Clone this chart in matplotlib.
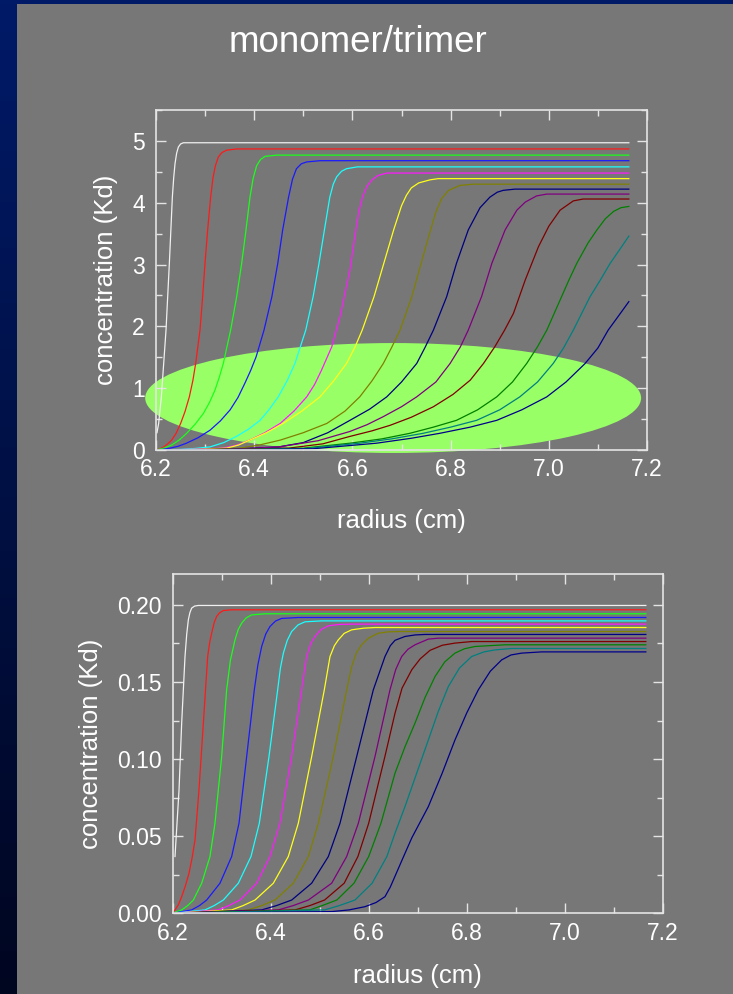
import numpy as np
import matplotlib
matplotlib.use("Agg")
import matplotlib.pyplot as plt
from matplotlib.patches import Ellipse, Rectangle
from matplotlib.ticker import MultipleLocator, FormatStrFormatter

plt.rcParams['font.family'] = ['Liberation Sans', 'DejaVu Sans']

SLIDE_GRAY = '#777777'
AXIS_WHITE = '#e4e4e4'

# one colour per scan, earliest scan first
curve_colors = ['#f0f0f0', '#ff1a1a', '#1aff1a', '#1a1aff', '#1affff', '#ff1aff',
                '#ffff1a', '#808000', '#000080', '#800080', '#800000', '#008000',
                '#008080', '#00008b']

# upper panel: radius (cm) and concentration (Kd) per scan
top_r = [
    [6.2020, 6.2054, 6.2109, 6.2204, 6.2272, 6.2333, 6.2360, 6.2387, 6.2420, 6.2455, 6.2500, 6.2557, 7.163],
    [6.2000, 6.2080, 6.2160, 6.2240, 6.2319, 6.2410, 6.2502, 6.2590, 6.2679, 6.2750, 6.2808, 6.2896, 6.2950,
     6.2998, 6.3052, 6.3113, 6.3160, 6.3210, 6.3270, 6.3340, 6.3439, 6.3643, 7.163],
    [6.2000, 6.2160, 6.2319, 6.2470, 6.2625, 6.2800, 6.2964, 6.3090, 6.3202, 6.3290, 6.3371, 6.3520, 6.3643,
     6.3745, 6.3833, 6.3914, 6.3980, 6.4050, 6.4130, 6.4220, 6.4458, 7.163],
    [6.2000, 6.2140, 6.2290, 6.2450, 6.2620, 6.2860, 6.3100, 6.3310, 6.3510, 6.3670, 6.3810, 6.3930, 6.4040,
     6.4200, 6.4360, 6.4480, 6.4580, 6.4700, 6.4780, 6.4860, 6.4960, 6.5070, 6.5340, 7.163],
    [6.2000, 6.2500, 6.2800, 6.3100, 6.3380, 6.3640, 6.3890, 6.4120, 6.4310, 6.4490, 6.4670, 6.4830, 6.5050,
     6.5200, 6.5320, 6.5430, 6.5540, 6.5610, 6.5680, 6.5780, 6.5880, 6.6100, 7.163],
    [6.2000, 6.2700, 6.3370, 6.3650, 6.3910, 6.4220, 6.4530, 6.4810, 6.5070, 6.5230, 6.5370, 6.5580, 6.5750,
     6.5950, 6.6050, 6.6130, 6.6210, 6.6300, 6.6400, 6.6520, 6.6700, 7.163],
    [6.2000, 6.2900, 6.3440, 6.3680, 6.3910, 6.4250, 6.4590, 6.4970, 6.5340, 6.5620, 6.5880, 6.6050, 6.6200,
     6.6440, 6.6640, 6.6840, 6.7000, 6.7100, 6.7200, 6.7350, 6.7580, 6.7750, 7.163],
    [6.2000, 6.3100, 6.3710, 6.4100, 6.4530, 6.5000, 6.5480, 6.5850, 6.6150, 6.6400, 6.6630, 6.6800, 6.6970,
     6.7210, 6.7400, 6.7570, 6.7700, 6.7820, 6.7960, 6.8190, 6.8460, 7.163],
    [6.2000, 6.3500, 6.4500, 6.5000, 6.5500, 6.5950, 6.6350, 6.6700, 6.7000, 6.7310, 6.7480, 6.7650, 6.7920,
     6.8120, 6.8360, 6.8600, 6.8800, 6.8950, 6.9070, 6.9310, 7.163],
    [6.2000, 6.3500, 6.4500, 6.5300, 6.5950, 6.6300, 6.6630, 6.7000, 6.7310, 6.7700, 6.7990, 6.8200, 6.8360,
     6.8630, 6.8840, 6.9110, 6.9350, 6.9520, 6.9750, 6.9960, 7.163],
    [6.2000, 6.3700, 6.4700, 6.5400, 6.5950, 6.6400, 6.6770, 6.7200, 6.7650, 6.8050, 6.8400, 6.8670, 6.8900,
     6.9100, 6.9280, 6.9520, 6.9790, 7.0000, 7.0230, 7.0500, 7.0700, 7.163],
    [6.2000, 6.4000, 6.5000, 6.5950, 6.6600, 6.7170, 6.7650, 6.8120, 6.8550, 6.8940, 6.9260, 6.9550, 6.9770,
     6.9960, 7.0110, 7.0260, 7.0410, 7.0570, 7.0800, 7.0980, 7.1150, 7.1320, 7.1470, 7.163],
    [6.2000, 6.4000, 6.5000, 6.6150, 6.6800, 6.7440, 6.8000, 6.8530, 6.9000, 6.9410, 6.9770, 7.0090, 7.0300,
     7.0500, 7.0670, 7.0840, 7.1050, 7.1250, 7.1450, 7.163],
    [6.2000, 6.4000, 6.5200, 6.6490, 6.7200, 6.7780, 6.8400, 6.8940, 6.9450, 6.9960, 7.0350, 7.0740, 7.1000,
     7.1210, 7.1430, 7.163],
]
top_c = [
    [0.28, 0.43, 0.86, 1.94, 3.02, 4.09, 4.40, 4.63, 4.80, 4.90, 4.95, 4.97, 4.97],
    [0.00, 0.02, 0.05, 0.10, 0.16, 0.27, 0.43, 0.62, 0.86, 1.12, 1.40, 1.94, 2.48,
     3.02, 3.56, 4.09, 4.40, 4.60, 4.74, 4.81, 4.85, 4.87, 4.87],
    [0.00, 0.03, 0.08, 0.16, 0.27, 0.42, 0.59, 0.77, 0.97, 1.18, 1.40, 1.94, 2.48,
     3.02, 3.56, 4.09, 4.40, 4.60, 4.70, 4.75, 4.77, 4.77],
    [0.00, 0.01, 0.03, 0.06, 0.11, 0.20, 0.32, 0.47, 0.65, 0.85, 1.08, 1.29, 1.51,
     1.94, 2.48, 3.02, 3.56, 4.09, 4.38, 4.55, 4.63, 4.66, 4.68, 4.68],
    [0.00, 0.01, 0.025, 0.05, 0.12, 0.22, 0.34, 0.48, 0.66, 0.86, 1.12, 1.40, 1.94,
     2.48, 3.02, 3.56, 4.09, 4.30, 4.42, 4.51, 4.55, 4.58, 4.58],
    [0.00, 0.01, 0.03, 0.08, 0.16, 0.28, 0.43, 0.63, 0.86, 1.06, 1.29, 1.67, 2.16,
     2.91, 3.45, 3.85, 4.10, 4.27, 4.37, 4.44, 4.48, 4.48],
    [0.00, 0.01, 0.03, 0.08, 0.16, 0.28, 0.43, 0.63, 0.86, 1.12, 1.40, 1.66, 1.94,
     2.48, 3.02, 3.56, 3.95, 4.12, 4.24, 4.32, 4.37, 4.39, 4.39],
    [0.00, 0.01, 0.03, 0.08, 0.16, 0.28, 0.43, 0.63, 0.86, 1.12, 1.40, 1.66, 1.94,
     2.48, 3.02, 3.50, 3.85, 4.07, 4.20, 4.28, 4.30, 4.30],
    [0.00, 0.01, 0.05, 0.12, 0.28, 0.48, 0.66, 0.86, 1.10, 1.40, 1.66, 1.94, 2.48,
     3.02, 3.56, 3.92, 4.09, 4.17, 4.20, 4.22, 4.22],
    [0.00, 0.01, 0.05, 0.15, 0.30, 0.41, 0.54, 0.70, 0.86, 1.10, 1.40, 1.67, 1.94,
     2.48, 3.02, 3.56, 3.88, 4.01, 4.11, 4.14, 4.14],
    [0.00, 0.01, 0.03, 0.10, 0.22, 0.31, 0.40, 0.53, 0.70, 0.90, 1.13, 1.40, 1.67,
     1.94, 2.21, 2.75, 3.29, 3.62, 3.88, 4.03, 4.06, 4.06],
    [0.00, 0.01, 0.03, 0.11, 0.18, 0.27, 0.37, 0.48, 0.65, 0.86, 1.10, 1.40, 1.67,
     1.94, 2.21, 2.48, 2.75, 3.02, 3.35, 3.56, 3.74, 3.86, 3.92, 3.94],
    [0.00, 0.01, 0.02, 0.11, 0.18, 0.27, 0.37, 0.48, 0.65, 0.86, 1.10, 1.40, 1.65,
     1.94, 2.21, 2.48, 2.75, 3.02, 3.25, 3.46],
    [0.00, 0.005, 0.02, 0.11, 0.19, 0.27, 0.37, 0.48, 0.65, 0.86, 1.10, 1.40, 1.65,
     1.94, 2.18, 2.40],
]

# lower panel
bot_r = [
    [6.2051, 6.2133, 6.2187, 6.2255, 6.2290, 6.2323, 6.2355, 6.2391, 6.2450, 6.2527, 7.165],
    [6.2000, 6.2051, 6.2120, 6.2187, 6.2260, 6.2336, 6.2400, 6.2459, 6.2540, 6.2629, 6.2717, 6.2760,
     6.2798, 6.2850, 6.2900, 6.2960, 6.3036, 6.3206, 7.165],
    [6.2000, 6.2187, 6.2310, 6.2425, 6.2595, 6.2764, 6.2866, 6.3002, 6.3104, 6.3180, 6.3274, 6.3340,
     6.3410, 6.3500, 6.3614, 6.3886, 7.165],
    [6.2000, 6.2391, 6.2550, 6.2697, 6.2968, 6.3206, 6.3356, 6.3512, 6.3668, 6.3740, 6.3818, 6.3900,
     6.3988, 6.4100, 6.4225, 6.4565, 7.165],
    [6.2000, 6.2663, 6.2850, 6.3036, 6.3342, 6.3600, 6.3770, 6.3967, 6.4144, 6.4200, 6.4260, 6.4340,
     6.4429, 6.4560, 6.4701, 6.5041, 7.165],
    [6.2000, 6.2934, 6.3150, 6.3376, 6.3716, 6.3988, 6.4191, 6.4429, 6.4633, 6.4735, 6.4820, 6.4905,
     6.5030, 6.5177, 6.5400, 6.5653, 7.165],
    [6.2000, 6.3206, 6.3440, 6.3682, 6.4056, 6.4361, 6.4565, 6.4837, 6.5095, 6.5211, 6.5300, 6.5381,
     6.5500, 6.5653, 6.5900, 6.6128, 7.165],
    [6.2000, 6.3546, 6.3820, 6.4090, 6.4463, 6.4769, 6.4973, 6.5279, 6.5551, 6.5653, 6.5750, 6.5856,
     6.6000, 6.6196, 6.6400, 6.6604, 7.165],
    [6.2000, 6.3818, 6.4120, 6.4430, 6.4837, 6.5177, 6.5415, 6.5755, 6.6094, 6.6332, 6.6440, 6.6536,
     6.6740, 6.6950, 6.7148, 7.165],
    [6.2000, 6.4158, 6.4460, 6.4770, 6.5245, 6.5551, 6.5789, 6.6128, 6.6434, 6.6550, 6.6672, 6.6800,
     6.6944, 6.7216, 6.7419, 7.165],
    [6.2000, 6.4500, 6.4800, 6.5100, 6.5500, 6.5780, 6.6000, 6.6180, 6.6330, 6.6536, 6.6680, 6.6880,
     6.7050, 6.7250, 6.7500, 6.7759, 6.8099, 7.165],
    [6.2000, 6.4800, 6.5050, 6.5350, 6.5700, 6.6000, 6.6250, 6.6536, 6.6740, 6.6944, 6.7150, 6.7352,
     6.7550, 6.7759, 6.7950, 6.8167, 6.8779, 7.165],
    [6.2000, 6.5100, 6.5400, 6.5720, 6.6070, 6.6370, 6.6536, 6.6740, 6.6980, 6.7216, 6.7420, 6.7623,
     6.7850, 6.8099, 6.8350, 6.8575, 6.8915, 7.165],
    [6.2000, 6.5245, 6.5600, 6.5925, 6.6150, 6.6332, 6.6440, 6.6536, 6.6700, 6.6880, 6.7216, 6.7500,
     6.7759, 6.8000, 6.8235, 6.8480, 6.8710, 6.8900, 6.9118, 6.9526, 7.165],
]
bot_c = [
    [0.0368, 0.0800, 0.1233, 0.1665, 0.1810, 0.1903, 0.1950, 0.1979, 0.1992, 0.1996, 0.1996],
    [0.0000, 0.0022, 0.0055, 0.0108, 0.0175, 0.0259, 0.0360, 0.0476, 0.0800, 0.1233, 0.1665, 0.1760,
     0.1816, 0.1885, 0.1925, 0.1948, 0.1963, 0.1968, 0.1968],
    [0.0000, 0.0022, 0.0050, 0.0086, 0.0195, 0.0368, 0.0584, 0.1016, 0.1449, 0.1640, 0.1773, 0.1840,
     0.1881, 0.1915, 0.1935, 0.1942, 0.1942],
    [0.0000, 0.0022, 0.0050, 0.0086, 0.0195, 0.0368, 0.0584, 0.1016, 0.1449, 0.1610, 0.1730, 0.1810,
     0.1860, 0.1895, 0.1912, 0.1918, 0.1918],
    [0.0000, 0.0022, 0.0050, 0.0086, 0.0195, 0.0368, 0.0584, 0.1016, 0.1449, 0.1590, 0.1687, 0.1770,
     0.1827, 0.1870, 0.1890, 0.1896, 0.1896],
    [0.0000, 0.0022, 0.0050, 0.0086, 0.0195, 0.0368, 0.0584, 0.1016, 0.1449, 0.1665, 0.1750, 0.1795,
     0.1840, 0.1864, 0.1873, 0.1875, 0.1875],
    [0.0000, 0.0022, 0.0050, 0.0086, 0.0195, 0.0368, 0.0584, 0.1016, 0.1449, 0.1665, 0.1735, 0.1773,
     0.1815, 0.1838, 0.1849, 0.1853, 0.1853],
    [0.0000, 0.0022, 0.0050, 0.0086, 0.0195, 0.0368, 0.0584, 0.1016, 0.1449, 0.1600, 0.1690, 0.1741,
     0.1785, 0.1816, 0.1825, 0.1827, 0.1827],
    [0.0000, 0.0022, 0.0050, 0.0086, 0.0195, 0.0368, 0.0584, 0.1016, 0.1449, 0.1665, 0.1735, 0.1770,
     0.1795, 0.1805, 0.1808, 0.1808],
    [0.0000, 0.0022, 0.0050, 0.0086, 0.0195, 0.0368, 0.0584, 0.1016, 0.1449, 0.1580, 0.1665, 0.1712,
     0.1741, 0.1778, 0.1784, 0.1784],
    [0.0000, 0.0022, 0.0050, 0.0086, 0.0195, 0.0368, 0.0584, 0.0820, 0.1016, 0.1297, 0.1460, 0.1580,
     0.1650, 0.1705, 0.1738, 0.1752, 0.1762, 0.1762],
    [0.0000, 0.0022, 0.0050, 0.0086, 0.0195, 0.0368, 0.0584, 0.0908, 0.1080, 0.1233, 0.1400, 0.1535,
     0.1630, 0.1687, 0.1715, 0.1730, 0.1741, 0.1741],
    [0.0000, 0.0022, 0.0050, 0.0086, 0.0195, 0.0368, 0.0519, 0.0692, 0.0910, 0.1124, 0.1310, 0.1470,
     0.1590, 0.1665, 0.1695, 0.1708, 0.1717, 0.1717],
    [0.0000, 0.0011, 0.0022, 0.0043, 0.0070, 0.0108, 0.0170, 0.0240, 0.0360, 0.0490, 0.0692, 0.0910,
     0.1124, 0.1300, 0.1449, 0.1570, 0.1643, 0.1675, 0.1687, 0.1695, 0.1695],
]

title = "monomer/trimer"
x_label = "radius (cm)"
y_label = "concentration (Kd)"

fig = plt.figure(figsize=(7.33, 9.94), dpi=100)

# slide background: navy gradient with a grey content panel
bg = fig.add_axes([0, 0, 1, 1], zorder=-10)
grad = np.linspace(0, 1, 256).reshape(-1, 1)
navy = matplotlib.colors.LinearSegmentedColormap.from_list('navy', ['#001a68', '#000620'])
bg.imshow(grad, aspect='auto', cmap=navy, extent=[0, 1, 0, 1])
bg.add_patch(Rectangle((17 / 733, 0), 1, 1 - 4 / 994, transform=bg.transAxes,
                       facecolor=SLIDE_GRAY, edgecolor='none'))
bg.set_xlim(0, 1)
bg.set_ylim(0, 1)
bg.axis('off')

fig.text(0.489, 1 - 42 / 994, title, ha='center', va='center', color='white', fontsize=26.5)


def style_axes(ax, ymajor, yminor, yfmt, ylim, xpad):
    ax.set_facecolor('none')
    ax.set_xlim(6.2, 7.2)
    ax.set_ylim(*ylim)
    ax.xaxis.set_major_locator(MultipleLocator(0.2))
    ax.xaxis.set_minor_locator(MultipleLocator(0.1))
    ax.xaxis.set_major_formatter(FormatStrFormatter('%.1f'))
    ax.yaxis.set_major_locator(MultipleLocator(ymajor))
    ax.yaxis.set_minor_locator(MultipleLocator(yminor))
    ax.yaxis.set_major_formatter(FormatStrFormatter(yfmt))
    for s in ax.spines.values():
        s.set_color(AXIS_WHITE)
        s.set_linewidth(1.2)
    ax.tick_params(which='both', direction='in', top=True, right=True,
                   color=AXIS_WHITE, width=1.0, labelcolor='white', labelsize=16.5)
    ax.tick_params(which='major', length=7.5)
    ax.tick_params(which='minor', length=4.5)
    ax.tick_params(axis='x', pad=6)
    ax.tick_params(axis='y', pad=8)
    ax.set_xlabel(x_label, color='white', fontsize=18.5, labelpad=xpad)
    ax.set_ylabel(y_label, color='white', fontsize=18.5, labelpad=10)


ax1 = fig.add_axes([156 / 733, 1 - 450 / 994, 491 / 733, 340 / 994])
style_axes(ax1, 1, 0.5, '%d', (0, 5.5), 20)
# highlight over the slow-rising tails
ax1.add_patch(Ellipse((6.683, 0.841), 1.010, 1.778, facecolor='#99ff66',
                      edgecolor='none', zorder=1, clip_on=False))
for r, c, col in zip(top_r, top_c, curve_colors):
    ax1.plot(r, c, color=col, lw=0.9, zorder=2)

ax2 = fig.add_axes([172.5 / 733, 1 - 913.3 / 994, 490.5 / 733, 339.3 / 994])
style_axes(ax2, 0.05, 0.025, '%.2f', (0, 0.22), 14)
for r, c, col in zip(bot_r, bot_c, curve_colors):
    ax2.plot(r, c, color=col, lw=0.9, zorder=2)

fig.savefig('out.png', dpi=100, facecolor=fig.get_facecolor())
